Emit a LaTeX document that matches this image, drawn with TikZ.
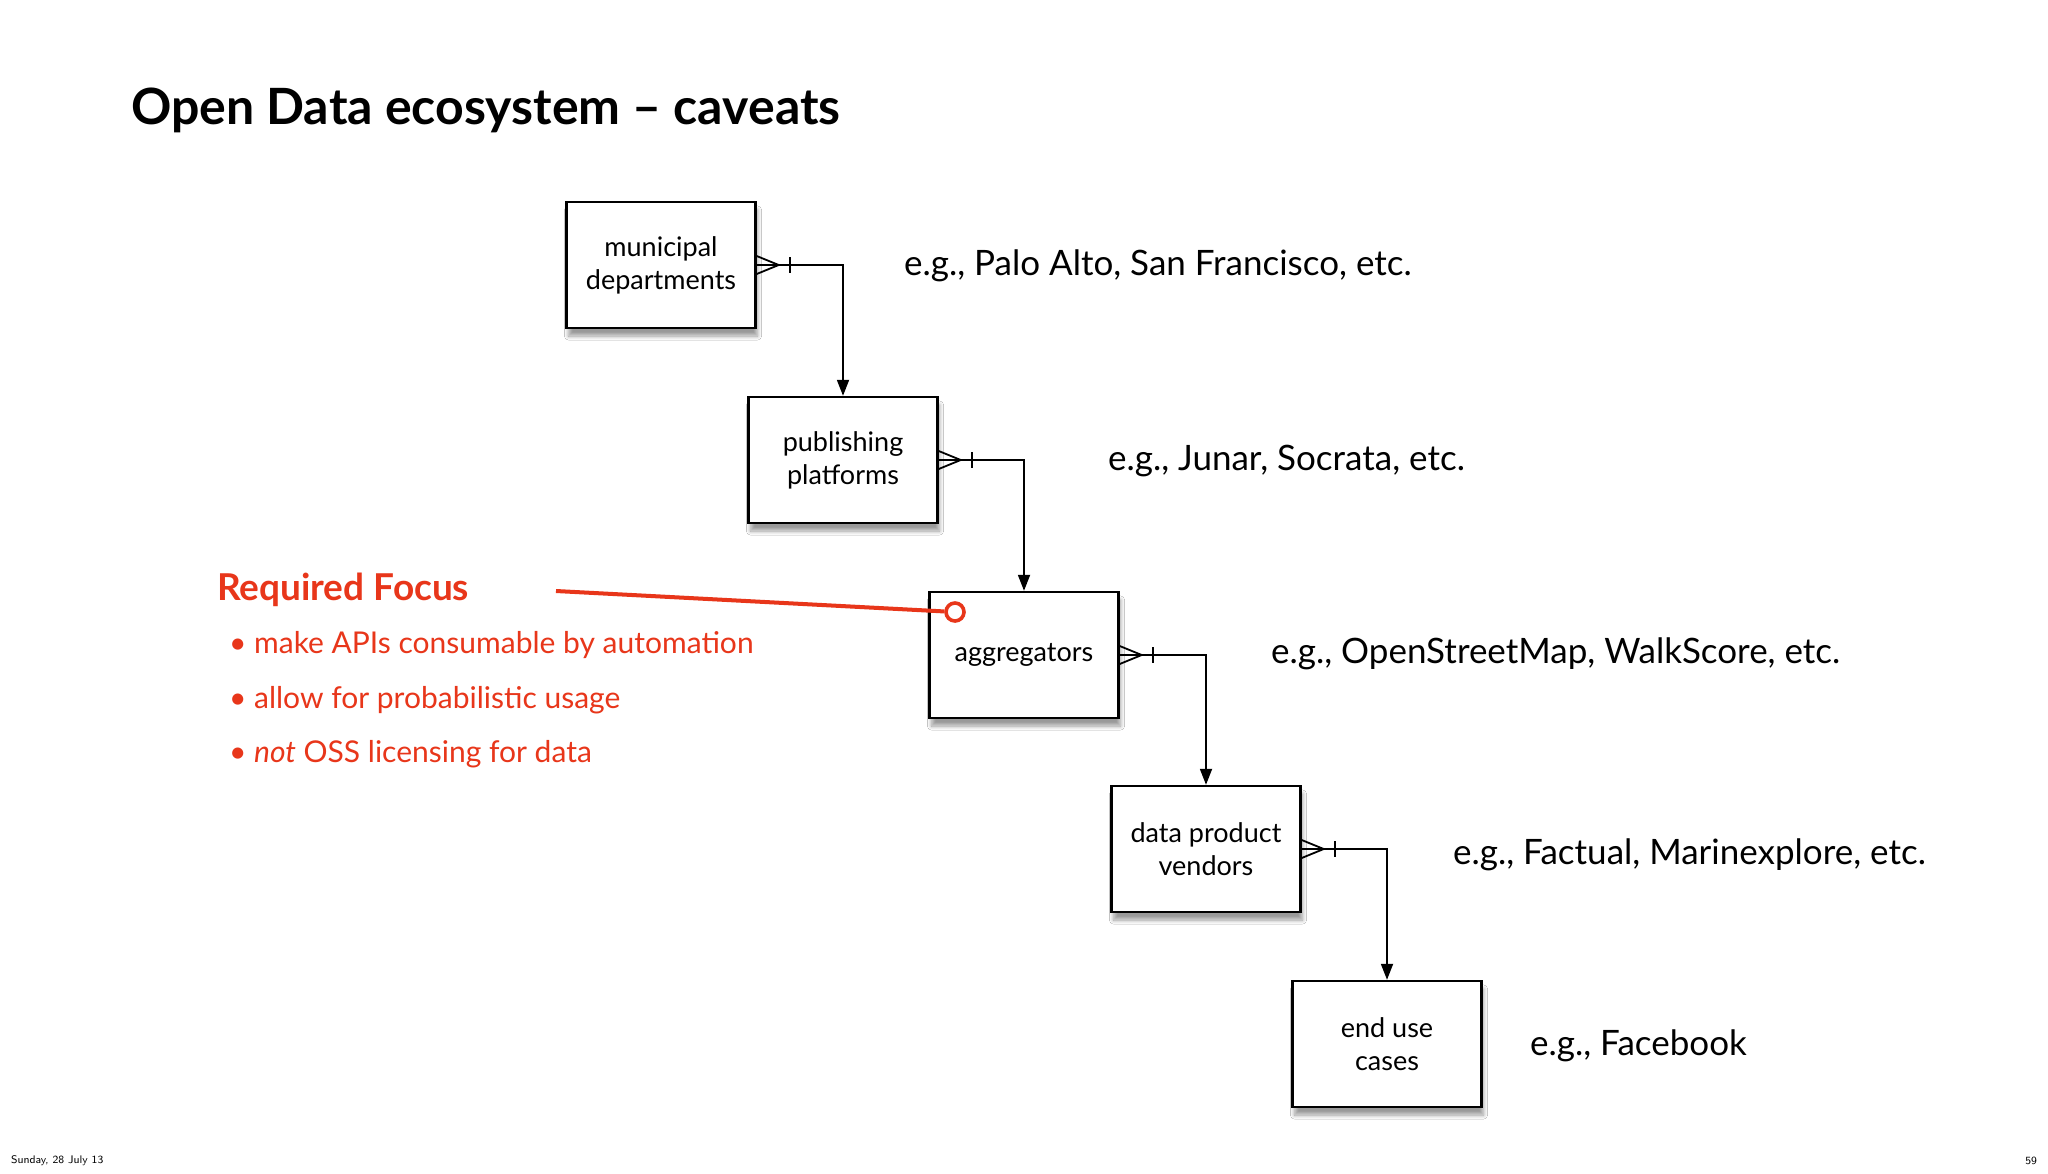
\documentclass[tikz,border=0pt]{standalone}
\usepackage{fontspec}
\setmainfont{Lato}
\usetikzlibrary{arrows.meta,shadows.blur}
\definecolor{redf}{HTML}{E8361A}
\begin{document}
\begin{tikzpicture}[x=0.5pt,y=-0.5pt,
  ent/.style={draw,line width=1.2pt,fill=white,minimum width=94.5pt,minimum height=63pt,align=center,font=\fontsize{13.5}{16.5}\selectfont,blur shadow={shadow xshift=1pt,shadow yshift=-4pt,shadow blur steps=8,shadow opacity=40}},
  eg/.style={anchor=west,font=\fontsize{17.5}{20}\selectfont},
  conn/.style={line width=0.9pt,-{Triangle[length=8pt,width=6pt]}},
  redtxt/.style={anchor=west,text=redf,font=\fontsize{15}{18}\selectfont}]
\useasboundingbox (0,0) rectangle (2048,1173);
\fill[white] (0,0) rectangle (2048,1173);
\node[anchor=west,font=\bfseries\fontsize{25}{28}\selectfont] (title) at (124,110) {Open Data ecosystem – caveats};
\node[ent] (b1) at (661,265) {municipal\\departments};
\node[ent] (b2) at (843,460) {publishing\\platforms};
\node[ent] (b3) at (1024,655) {aggregators};
\node[ent] (b4) at (1206,849) {data product\\vendors};
\node[ent] (b5) at (1387,1044) {end use\\cases};
\foreach \a/\b in {b1/b2,b2/b3,b3/b4,b4/b5}{
  \draw[conn] (\a.east) -| (\b.north);
  \draw[line width=0.9pt] (\a.east) ++(0,-9) -- ++(22,9) -- ++(-22,9);
  \draw[line width=0.9pt] (\a.east) ++(33,-8) -- ++(0,16);
}
\node[eg] (e1) at (897,266) {e.g., Palo Alto, San Francisco, etc.};
\node[eg] (e2) at (1101,461) {e.g., Junar, Socrata, etc.};
\node[eg] (e3) at (1264,654) {e.g., OpenStreetMap, WalkScore, etc.};
\node[eg] (e4) at (1446,855) {e.g., Factual, Marinexplore, etc.};
\node[eg] (e5) at (1523,1046) {e.g., Facebook};
\node[redtxt,font=\bfseries\fontsize{18.5}{21}\selectfont] (rf) at (210,590) {Required Focus};
\node[redtxt] (r1) at (222,645) {•\ make APIs consumable by automation};
\node[redtxt] (r2) at (222,700) {•\ allow for probabilistic usage};
\node[redtxt] (r3) at (222,754) {•\ \textit{not} OSS licensing for data};
\node[draw=redf,line width=1.8pt,circle,inner sep=0pt,minimum size=9pt,fill=white] (dot) at (955,612) {};
\coordinate (rs) at (556,591);
\draw[redf,line width=2pt] (rs) -- (dot);
\node[anchor=west,font=\sffamily\fontsize{5.5}{6}\selectfont] (f1) at (4,1161) {Sunday, 28 July 13};
\node[anchor=east,font=\sffamily\fontsize{5.5}{6}\selectfont] (f2) at (2044,1161) {59};
\end{tikzpicture}
\end{document}
